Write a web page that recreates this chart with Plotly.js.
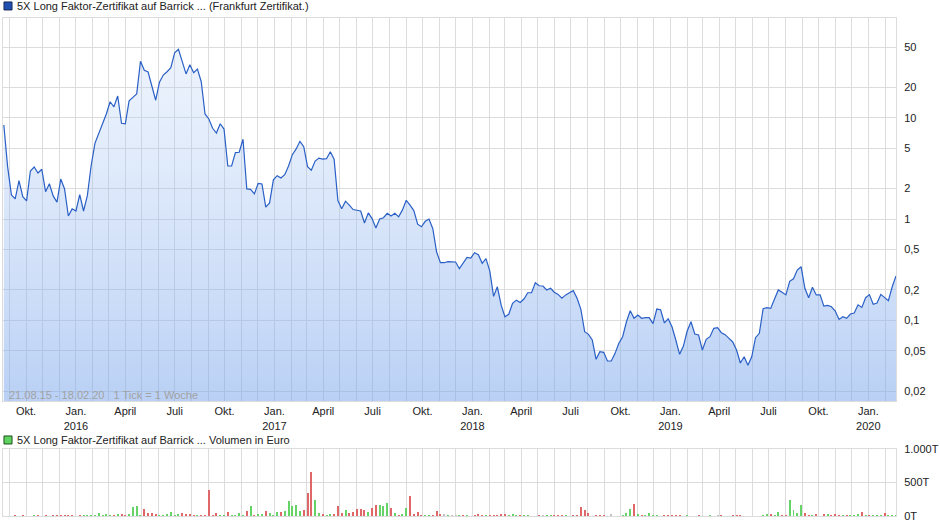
<!DOCTYPE html>
<html><head><meta charset="utf-8">
<script src="https://cdn.plot.ly/plotly-3.0.1.min.js"></script>
<style>html,body{margin:0;padding:0;background:#fff}#chart{width:940px;height:526px}</style>
</head><body><div id="chart"></div>
<script>
// weekly data, first tick 21.08.15
const startDate = '2015-08-21';
const prices = [
 8.48,3.29,1.73,1.58,2.39,1.66,1.51,2.98,3.26,2.85,
 3.10,1.86,2.23,1.69,1.47,2.48,1.98,1.07,1.26,1.20,
 1.74,1.20,1.70,3.36,5.59,7.02,8.54,10.9,14.4,12.8,
 16.4,8.82,8.73,14.7,15.9,17.2,36.1,29.4,28.3,20.3,
 14.9,22.5,26.4,28.5,31.2,43.9,47.5,35.8,27.1,33.4,
 27.9,30.3,22.7,10.9,9.72,7.87,7.07,8.73,7.74,3.34,
 3.34,4.52,4.56,6.13,1.98,1.96,1.77,2.25,2.22,1.31,
 1.44,2.44,2.68,2.54,2.74,3.34,4.32,4.92,5.85,5.18,
 3.29,3.03,3.74,4.00,3.91,3.94,4.62,3.89,1.52,1.26,
 1.50,1.37,1.24,1.22,1.20,0.913,1.15,1.01,0.815,1.0,
 1.03,1.14,1.07,1.14,1.05,1.23,1.53,1.37,1.21,0.89,
 0.839,0.949,1.0,0.802,0.472,0.370,0.370,0.379,0.379,0.376,
 0.323,0.367,0.418,0.412,0.465,0.444,0.365,0.406,0.308,0.172,
 0.214,0.141,0.108,0.1145,0.147,0.158,0.150,0.162,0.187,0.187,
 0.235,0.219,0.218,0.199,0.207,0.189,0.180,0.165,0.178,0.187,
 0.196,0.165,0.128,0.077,0.0726,0.0638,0.0411,0.0489,0.0482,0.0396,
 0.0396,0.0471,0.0592,0.0688,0.0967,0.124,0.1045,0.1127,0.1045,0.106,
 0.106,0.0925,0.129,0.127,0.094,0.1035,0.0863,0.0638,0.0461,0.0556,
 0.0783,0.0967,0.0731,0.0715,0.0508,0.0648,0.0688,0.0832,0.0844,0.0753,
 0.0720,0.0663,0.0610,0.0508,0.0378,0.0436,0.0359,0.0436,0.0672,0.0743,
 0.130,0.133,0.131,0.162,0.199,0.189,0.178,0.2425,0.257,0.313,
 0.338,0.207,0.167,0.2115,0.178,0.178,0.138,0.140,0.136,0.1234,
 0.102,0.1084,0.1045,0.1153,0.118,0.142,0.134,0.167,0.179,0.1437,
 0.148,0.180,0.167,0.156,0.214,0.2735
];
// volume in T Euro
const volumes = [
 0,0,0,8,0,8,0,0,8,15,
 0,8,0,8,8,8,15,8,8,0,
 8,8,8,8,15,45,15,30,15,15,
 30,30,15,35,135,150,15,105,45,45,
 35,15,8,30,60,8,30,45,30,30,
 8,15,8,15,390,15,45,15,8,60,
 8,15,45,15,75,150,15,30,30,75,
 45,15,60,60,75,224,150,164,75,90,
 343,657,239,45,30,15,30,30,150,45,
 90,45,60,105,105,90,60,120,164,164,
 150,194,120,45,15,30,120,299,30,60,
 15,15,15,15,75,30,30,15,15,15,
 8,8,8,0,15,30,15,15,8,15,
 15,30,30,15,30,8,8,8,8,0,
 0,8,15,8,15,8,15,8,15,0,
 8,15,134,90,45,0,15,8,15,0,
 30,0,0,8,45,105,179,30,8,8,
 45,8,8,0,15,8,8,15,8,0,
 15,0,0,8,0,0,8,0,15,8,
 0,0,8,8,8,0,0,0,0,0,
 8,30,30,15,60,15,15,244,90,45,
 164,45,15,8,30,0,30,30,15,30,
 15,15,8,8,8,30,60,8,15,8,
 8,8,45,8,8,8
];
// g = up, r = down, n = unchanged, . = none
const volumeDir = (
 "...r.r..gr" + ".r.rrrrrr." + "rggggggggr" + "grrggggrrr" + "rggggggrrr" +
 "rgrrrrrggr" + "ggggrgrggr" + "gggrgggggr" + "rrggrggrrr" + "grrrrrgrrg" +
 "ggrgrggrrr" + "rggrrrngnn" + "grg.rrrgrr" + "rrrgggrgg." + ".rnggrrrg." +
 "rrrrr.rrr." + "n..gggrgrg" + "ggg.rrrrr." + "g..r..g.nr" + "..rrr....." +
 "ggrggrrggg" + "grrgr.rgrr" + "rgrgggrgrg" + "ggrggg").split('');

const quarterLabels = {
 '2015-10':'Okt.','2016-01':'Jan.<br>2016','2016-04':'April','2016-07':'Juli','2016-10':'Okt.',
 '2017-01':'Jan.<br>2017','2017-04':'April','2017-07':'Juli','2017-10':'Okt.',
 '2018-01':'Jan.<br>2018','2018-04':'April','2018-07':'Juli','2018-10':'Okt.',
 '2019-01':'Jan.<br>2019','2019-04':'April','2019-07':'Juli','2019-10':'Okt.',
 '2020-01':'Jan.<br>2020'
};
const priceTickVals = [0.02,0.05,0.1,0.2,0.5,1,2,5,10,20,50];
const priceTickText = ['0,02','0,05','0,1','0,2','0,5','1','2','5','10','20','50'];
const volTickVals = [0,500,1000];
const volTickText = ['0T','500T','1.000T'];

const legendPrice = '5X Long Faktor-Zertifikat auf Barrick ... (Frankfurt Zertifikat.)';
const legendVolume = '5X Long Faktor-Zertifikat auf Barrick ... Volumen in Euro';
const infoText = '21.08.15 - 18.02.20   1 Tick = 1 Woche';

// build weekly dates
const dates = [];
const d0 = new Date(startDate + 'T00:00:00Z');
for (let i = 0; i < prices.length; i++) {
  const d = new Date(d0.getTime() + i * 7 * 86400000);
  dates.push(d.toISOString().slice(0,10));
}
// monthly grid ticks
const monthVals = [], monthText = [];
for (let y = 2015, m = 8; y < 2020 || (y === 2020 && m <= 1); ) {
  const key = y + '-' + String(m + 1).padStart(2,'0');
  monthVals.push(key + '-01');
  monthText.push(quarterLabels[key] || '');
  m++; if (m > 11) { m = 0; y++; }
}
const dirColor = {g:'#66d366', r:'#df6767', n:'#c3c3c3', '.':'rgba(0,0,0,0)'};

const font = {family:'"Liberation Sans", Arial, sans-serif', size:11, color:'#222'};
const gridC = '#dcdcdc';
const yLogRange = [-1.7977, 1.9854];

const traces = [
  {x: dates, y: prices, type:'scatter', mode:'lines', xaxis:'x', yaxis:'y',
   line:{color:'rgb(42,96,198)', width:1.2}, fill:'tozeroy',
   fillgradient:{type:'vertical', start: Math.pow(10, yLogRange[0]), stop: Math.pow(10, yLogRange[1]),
     colorscale:[[0,'rgba(121,165,235,0.52)'],[1,'rgba(187,211,247,0.22)']]},
   hoverinfo:'skip'},
  {x: dates, y: volumes, type:'bar', xaxis:'x2', yaxis:'y2',
   marker:{color: volumeDir.map(c => dirColor[c]), line:{width:0}},
   width: 2.1*86400000*1.75, hoverinfo:'skip'}
];

const xr = ['2015-08-19 12:00', '2020-02-21'];
const layout = {
  width:940, height:526, margin:{l:3, r:44, t:18, b:10},
  paper_bgcolor:'#fff', plot_bgcolor:'#fff', showlegend:false, font: font,
  xaxis:{type:'date', range:xr, domain:[0,1], anchor:'y', tickmode:'array', tickvals:monthVals, ticktext:monthText,
    showgrid:true, gridcolor:gridC, gridwidth:1, ticks:'', tickfont:font, showline:true, linecolor:gridC, mirror:true, zeroline:false},
  yaxis:{type:'log', range:yLogRange, domain:[0.2309,1], side:'right', tickmode:'array', tickvals:priceTickVals, ticktext:priceTickText,
    showgrid:true, gridcolor:gridC, ticks:'', ticklabelstandoff:5, tickfont:font, showline:true, linecolor:gridC, mirror:true, zeroline:false},
  xaxis2:{type:'date', range:xr, matches:'x', anchor:'y2', tickmode:'array', tickvals:monthVals, ticktext:monthText,
    showticklabels:false, showgrid:true, gridcolor:gridC, ticks:'', showline:true, linecolor:gridC, mirror:true, zeroline:false},
  yaxis2:{range:[0,1000], domain:[0,0.1345], side:'right', anchor:'x2', tickmode:'array', tickvals:volTickVals, ticktext:volTickText,
    showgrid:true, gridcolor:gridC, ticks:'', ticklabelstandoff:5, tickfont:font, showline:true, linecolor:gridC, mirror:true, zeroline:false},
  bargap:0,
  shapes:[
    {type:'rect', xref:'paper', yref:'paper', x0:0.0011, x1:0.0101, y0:1.0161, y1:1.0322, fillcolor:'#1f4fb0', line:{color:'#1a2a55', width:1}},
    {type:'rect', xref:'paper', yref:'paper', x0:0.0011, x1:0.0101, y0:0.1446, y1:0.1607, fillcolor:'#5fd35f', line:{color:'#1f4d1f', width:1}}
  ],
  annotations:[
    {xref:'paper', yref:'paper', x:0.0134, y:1.0241, xanchor:'left', yanchor:'middle', text:legendPrice, showarrow:false, font:font},
    {xref:'paper', yref:'paper', x:0.0134, y:0.1526, xanchor:'left', yanchor:'middle', text:legendVolume, showarrow:false, font:font},
    {xref:'paper', yref:'paper', x:0.0045, y:0.243, xanchor:'left', yanchor:'middle', text:infoText, showarrow:false,
     font:{family:font.family, size:11, color:'#a2a2a2'}}
  ]
};
Plotly.newPlot('chart', traces, layout, {staticPlot:true, displayModeBar:false});
</script>
</body></html>
